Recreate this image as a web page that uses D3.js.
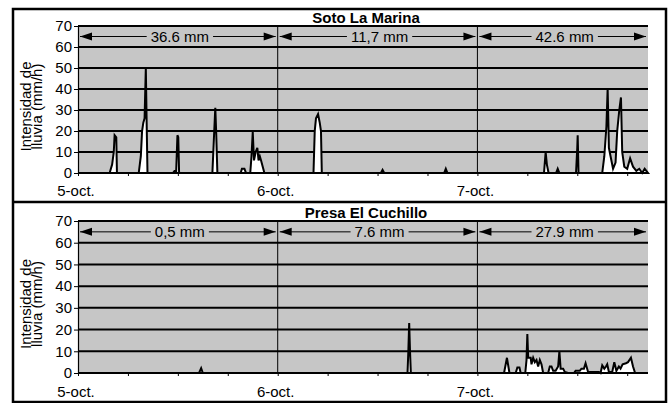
<!DOCTYPE html>
<html lang="es">
<head>
<meta charset="UTF-8">
<title>Intensidad de lluvia</title>
<script src="https://d3js.org/d3.v7.min.js"></script>
<style>
  body { margin: 0; background: #fff; }
  svg { display: block; font-family: "Liberation Sans", Arial, sans-serif; }
</style>
</head>
<body>
<svg id="chart" width="671" height="403"></svg>
<script>
// hours counted from 5-oct 00:00
const endHour = 68.5;
const dayLabels = ["5-oct.", "6-oct.", "7-oct."];
const dayStarts = [0, 24, 48];
const yTicks = [0, 10, 20, 30, 40, 50, 60, 70];
const stationNames = ["Soto La Marina", "Presa El Cuchillo"];
const sotoTotals = ["36.6 mm", "11,7 mm", "42.6 mm"];
const cuchilloTotals = ["0,5 mm", "7.6 mm", "27.9 mm"];

// [hour, mm/h]
const sotoRain = [
  [0, 0], [3.8, 0], [4.1, 4], [4.3, 10], [4.4, 18], [4.6, 17], [4.68, 0],
  [7.3, 0], [7.55, 8], [7.7, 20], [7.85, 24], [8.0, 26], [8.15, 50], [8.25, 24], [8.35, 0],
  [11.4, 0], [11.6, 1], [11.8, 1], [11.95, 18], [12.05, 17], [12.15, 0],
  [16.15, 0], [16.35, 18], [16.5, 31], [16.6, 20], [16.75, 0],
  [19.55, 0], [19.7, 2], [20.0, 2], [20.2, 0], [20.7, 0], [20.85, 8], [21.0, 19.5], [21.15, 6],
  [21.35, 10], [21.55, 12], [21.7, 6], [21.85, 8], [22.0, 6], [22.2, 3], [22.4, 0],
  [28.3, 0], [28.45, 20], [28.6, 26], [28.85, 28], [29.05, 24], [29.2, 20], [29.3, 0],
  [36.4, 0], [36.6, 1.5], [36.8, 0],
  [44.0, 0], [44.2, 2], [44.4, 0],
  [56.0, 0], [56.2, 10], [56.35, 4], [56.55, 0],
  [57.45, 0], [57.65, 2], [57.85, 0],
  [59.85, 0], [60.0, 12], [60.05, 18], [60.15, 0],
  [63.0, 0], [63.25, 8], [63.5, 22], [63.65, 40], [63.8, 12], [64.0, 8], [64.3, 2],
  [64.6, 5], [64.8, 20], [65.05, 30], [65.25, 36], [65.4, 10], [65.65, 3], [66.0, 2],
  [66.35, 7], [66.7, 3], [67.1, 1], [67.45, 2], [67.8, 0], [68.1, 2], [68.5, 0]
];

const cuchilloRain = [
  [0, 0], [14.55, 0], [14.8, 2.2], [15.0, 0],
  [39.6, 0], [39.7, 10], [39.8, 23], [39.9, 10], [40.0, 0],
  [51.2, 0], [51.55, 7], [51.85, 0],
  [52.6, 0], [52.8, 2.5], [53.05, 2.5], [53.2, 0],
  [53.75, 0], [53.9, 6], [54.0, 18], [54.1, 7], [54.4, 7], [54.5, 4], [54.7, 7], [54.9, 5],
  [55.1, 6], [55.3, 3], [55.5, 6], [55.7, 4], [55.9, 0],
  [56.5, 0], [56.7, 3], [56.9, 3], [57.1, 1], [57.4, 1], [57.7, 3], [57.85, 10], [58.0, 2],
  [58.3, 2], [58.5, 0.5], [58.9, 0],
  [59.6, 0], [59.8, 1], [60.3, 1], [60.5, 2], [60.8, 2], [61.0, 4.5], [61.3, 0.5], [62.6, 0.5],
  [62.8, 0], [63.0, 3.5], [63.25, 2], [63.45, 3], [63.6, 4], [63.8, 0.5], [64.2, 0.5],
  [64.45, 5], [64.7, 1], [65.0, 3], [65.2, 2], [65.45, 4], [65.85, 4.5], [66.1, 5],
  [66.45, 7], [66.7, 3], [66.95, 0], [68.5, 0]
];

const svg = d3.select("#chart");
const plotBg = "#c6c6c6";

// outer frame
svg.append("rect")
  .attr("x", 13).attr("y", 9).attr("width", 653).attr("height", 393)
  .attr("fill", "none").attr("stroke", "#000").attr("stroke-width", 2.5);
svg.append("line")
  .attr("x1", 13).attr("x2", 666).attr("y1", 202).attr("y2", 202)
  .attr("stroke", "#000").attr("stroke-width", 2.5);

const panels = [
  { name: stationNames[0], data: sotoRain, totals: sotoTotals, y0: 173, y1: 26, titleY: 23, labelY: 196 },
  { name: stationNames[1], data: cuchilloRain, totals: cuchilloTotals, y0: 373, y1: 221, titleY: 218, labelY: 397 }
];

const x = d3.scaleLinear().domain([0, endHour]).range([78, 648]);

panels.forEach(p => {
  const g = svg.append("g");
  const y = d3.scaleLinear().domain([0, 70]).range([p.y0, p.y1]);

  g.append("rect")
    .attr("x", x(0)).attr("y", y(70))
    .attr("width", x(endHour) - x(0)).attr("height", y(0) - y(70))
    .attr("fill", plotBg);

  // horizontal grid
  g.selectAll(".grid")
    .data(yTicks.filter(d => d > 0))
    .join("line")
    .attr("x1", x(0)).attr("x2", x(endHour))
    .attr("y1", d => y(d)).attr("y2", d => y(d))
    .attr("stroke", "#000").attr("stroke-width", 2);

  // day separators
  g.selectAll(".day")
    .data(dayStarts.slice(1))
    .join("line")
    .attr("x1", d => x(d)).attr("x2", d => x(d))
    .attr("y1", y(70)).attr("y2", y(0))
    .attr("stroke", "#000").attr("stroke-width", 1);

  // rain intensity
  const area = d3.area()
    .x(d => x(d[0])).y0(y(0)).y1(d => y(d[1]));
  g.append("path")
    .datum(p.data)
    .attr("d", area)
    .attr("fill", "#fff")
    .attr("stroke", "#000").attr("stroke-width", 2)
    .attr("stroke-linejoin", "miter");

  // axes
  const yAxis = g.append("g")
    .attr("transform", `translate(${x(0)},0)`)
    .call(d3.axisLeft(y).tickValues(yTicks).tickSize(4).tickPadding(2));
  yAxis.select(".domain").attr("stroke-width", 1.2);
  yAxis.selectAll("text").attr("font-size", 15).attr("fill", "#000")
    .attr("font-family", "Liberation Sans, Arial, sans-serif");

  const xAxis = g.append("g")
    .attr("transform", `translate(0,${y(0)})`)
    .call(d3.axisBottom(x).tickValues(d3.range(0, endHour, 6)).tickSize(3).tickFormat(""));
  xAxis.select(".domain").attr("stroke-width", 2).attr("d", `M${x(0)},0H${x(endHour)}`);

  g.selectAll(".dayLabel")
    .data(dayLabels)
    .join("text")
    .attr("x", (d, i) => x(dayStarts[i]) - 2)
    .attr("y", p.labelY)
    .attr("text-anchor", "middle")
    .attr("font-size", 15)
    .text(d => d);

  // title
  g.append("text")
    .attr("x", (x(0) + x(endHour)) / 2 + 3)
    .attr("y", p.titleY)
    .attr("text-anchor", "middle")
    .attr("font-size", 15).attr("font-weight", "bold")
    .text(p.name);

  // y title
  const cy = (y(0) + y(70)) / 2 + 7;
  const yt = g.append("text")
    .attr("transform", `translate(31,${cy}) rotate(-90)`)
    .attr("text-anchor", "middle")
    .attr("font-size", 15);
  yt.append("tspan").attr("x", 0).attr("dy", 0).text("Intensidad de");
  yt.append("tspan").attr("x", 0).attr("dy", 11).text("lluvia (mm/h)");

  // daily totals with arrows
  const ay = y(65);
  p.totals.forEach((t, i) => {
    const xa = x(dayStarts[i]) + 2;
    const xb = x(Math.min(dayStarts[i] + 24, endHour)) - 2;
    g.append("line")
      .attr("x1", xa).attr("x2", xb).attr("y1", ay).attr("y2", ay)
      .attr("stroke", "#000").attr("stroke-width", 1);
    g.append("path")
      .attr("d", `M${xa},${ay}L${xa + 12},${ay - 4}L${xa + 12},${ay + 4}Z`)
      .attr("fill", "#000");
    g.append("path")
      .attr("d", `M${xb},${ay}L${xb - 12},${ay - 4}L${xb - 12},${ay + 4}Z`)
      .attr("fill", "#000");
    const bgRect = g.append("rect").attr("fill", plotBg);
    const label = g.append("text")
      .attr("x", (xa + xb) / 2 + 2).attr("y", ay + 5)
      .attr("text-anchor", "middle")
      .attr("font-size", 15)
      .text(t);
    const bb = label.node().getBBox();
    bgRect.attr("x", bb.x - 4).attr("y", ay - 2)
      .attr("width", bb.width + 8).attr("height", 4);
  });
});
</script>
</body>
</html>
